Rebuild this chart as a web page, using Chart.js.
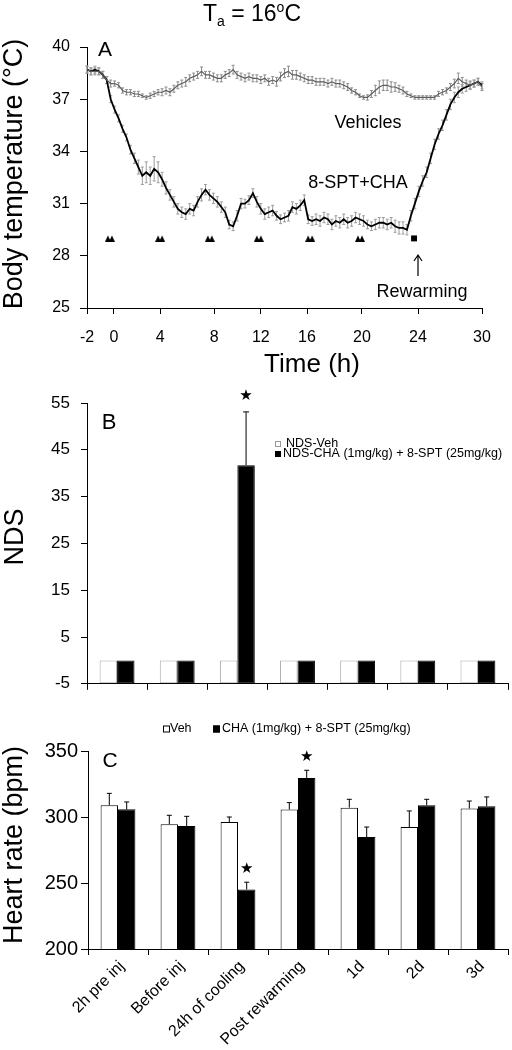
<!DOCTYPE html>
<html><head><meta charset="utf-8">
<script src="https://cdn.jsdelivr.net/npm/chart.js@4.4.1/dist/chart.umd.min.js"></script>
<style>
html,body{margin:0;padding:0;background:#fff;}
#wrap{position:relative;width:512px;height:1050px;overflow:hidden;background:#fff;}
.pane{position:absolute;left:0;width:512px;}
canvas{display:block;}
</style></head><body>
<div id="wrap">
<div class="pane" style="top:0;height:380px"><canvas id="cA" width="512" height="380"></canvas></div>
<div class="pane" style="top:380px;height:325px"><canvas id="cB" width="512" height="325"></canvas></div>
<div class="pane" style="top:705px;height:345px"><canvas id="cC" width="512" height="345"></canvas></div>
</div>
<script>
// ---------- Panel A data (body temperature, one sample per axis step) ----------
const timeTickLabels = ['-2','0','4','8','12','16','20','24','30'];
const timeTickPos = [0, 6.8, 18.5, 32.2, 44, 55.7, 69.6, 83.8, 100];
const tempVehicles = [38.7,38.6,38.6,38.6,38.4,38.1,37.9,37.9,37.8,37.5,
  37.4,37.4,37.3,37.3,37.2,37.1,37.2,37.3,37.4,37.4,
  37.5,37.4,37.6,37.8,37.9,38.0,38.2,38.3,38.4,38.6,
  38.4,38.4,38.3,38.2,38.2,38.4,38.5,38.7,38.4,38.3,
  38.2,38.3,38.2,38.2,38.1,38.2,38.0,38.1,38.0,38.3,
  38.5,38.6,38.4,38.4,38.3,38.2,38.1,38.1,38.0,38.0,
  38.0,37.9,38.0,37.9,37.9,37.8,37.7,37.5,37.4,37.2,
  37.1,37.1,37.3,37.5,37.7,37.8,37.8,37.7,37.7,37.6,
  37.5,37.3,37.2,37.1,37.1,37.1,37.1,37.1,37.1,37.3,
  37.4,37.5,37.7,37.9,38.2,38.0,37.9,37.8,37.9,38.0,
  37.7];
const tempVehiclesErr = [0.2,0.2,0.2,0.2,0.2,0.2,0.2,0.15,0.15,0.15,
  0.15,0.15,0.15,0.15,0.1,0.1,0.15,0.15,0.15,0.2,
  0.2,0.2,0.2,0.2,0.2,0.25,0.2,0.2,0.2,0.25,
  0.2,0.2,0.2,0.2,0.2,0.2,0.2,0.25,0.2,0.2,
  0.2,0.2,0.2,0.2,0.2,0.2,0.2,0.2,0.25,0.25,
  0.25,0.3,0.25,0.25,0.2,0.2,0.2,0.2,0.2,0.2,
  0.2,0.2,0.2,0.2,0.2,0.2,0.2,0.15,0.15,0.1,
  0.1,0.15,0.2,0.3,0.35,0.3,0.3,0.3,0.25,0.2,
  0.2,0.15,0.1,0.1,0.1,0.1,0.1,0.1,0.1,0.15,
  0.15,0.15,0.2,0.25,0.3,0.25,0.2,0.2,0.2,0.2,
  0.2];
const tempCha = [38.7,38.6,38.7,38.6,38.4,38.1,37.0,36.4,35.9,35.3,
  34.8,34.1,33.6,33.1,32.6,32.8,32.6,33.0,32.8,32.4,
  31.9,31.5,31.1,30.7,30.5,30.4,30.7,30.6,31.1,31.5,
  31.8,31.5,31.3,31.1,30.8,30.5,29.8,29.7,30.3,31.0,
  31.0,31.2,31.6,31.1,30.7,30.4,30.5,30.6,30.3,30.1,
  30.2,30.3,30.8,30.7,30.9,31.2,30.1,30.0,30.1,30.0,
  30.2,30.1,29.8,30.0,29.9,30.1,29.9,30.0,30.2,30.1,
  30.0,29.8,29.7,29.8,29.9,29.9,29.8,29.9,29.7,29.6,
  29.6,29.5,30.3,31.0,31.7,32.3,32.8,33.6,34.4,35.0,
  35.5,36.1,36.7,37.1,37.4,37.6,37.7,37.8,37.9,38.0,
  37.8];
const tempChaErr = [0.2,0.2,0.2,0.2,0.2,0.2,0.2,0.2,0.2,0.2,
  0.2,0.25,0.3,0.4,0.5,0.6,0.5,0.7,0.6,0.4,
  0.35,0.3,0.3,0.3,0.3,0.3,0.3,0.3,0.3,0.35,
  0.3,0.3,0.3,0.3,0.3,0.3,0.25,0.25,0.3,0.3,
  0.25,0.25,0.25,0.3,0.3,0.3,0.3,0.3,0.25,0.25,
  0.25,0.3,0.3,0.3,0.3,0.3,0.25,0.25,0.3,0.3,
  0.3,0.3,0.3,0.3,0.3,0.3,0.3,0.3,0.3,0.3,
  0.3,0.25,0.25,0.3,0.3,0.3,0.3,0.3,0.35,0.35,
  0.35,0.3,0.3,0.3,0.3,0.3,0.3,0.3,0.3,0.3,
  0.3,0.3,0.3,0.3,0.3,0.25,0.25,0.25,0.2,0.2,
  0.2];
const injectionPos = [5.8, 18.5, 31.1, 43.5, 56.5, 69.1];
const rewarmPos = [82.8];
const markerLevel = 29;

// ---------- Panel B data (NDS) ----------
const categories = ['2h pre inj','Before inj','24h of cooling','Post rewarming','1d','2d','3d'];
const ndsVeh = [0,0,0,0,0,0,0];
const ndsVehErr = [0,0,0,0,0,0,0];
const ndsCha = [0,0,41.7,0,0,0,0];
const ndsChaErr = [0,0,11.4,0,0,0,0];
const ndsSignificant = [false,false,true,false,false,false,false];

// ---------- Panel C data (heart rate) ----------
const hrVeh = [308.9,294.5,296.2,305.6,307.1,292.4,306.4];
const hrVehErr = [9.0,6.8,3.8,5.3,6.3,12.2,5.7];
const hrCha = [305.8,293.2,245.1,329.6,284.8,308.9,308.1];
const hrChaErr = [5.6,7.3,5.5,5.8,7.6,4.5,7.1];
const hrSignificant = [false,false,true,true,false,false,false];

const FONT = "'Liberation Sans', Arial, Helvetica, sans-serif";
Chart.defaults.font.family = FONT;
Chart.defaults.color = '#000';

// ---------- plugins ----------
function drawErrors(chart){
  const ctx = chart.ctx, ys = chart.scales.y;
  chart.data.datasets.forEach((ds, i) => {
    if (!ds.errors) return;
    const meta = chart.getDatasetMeta(i);
    ctx.save();
    ctx.strokeStyle = ds.errorColor || '#000';
    ctx.lineWidth = ds.errorWidth || 1;
    meta.data.forEach((el, j) => {
      const e = ds.errors[j];
      if (!e) return;
      const raw = ds.data[j];
      const v = (typeof raw === 'object') ? raw.y : raw;
      const x = el.x;
      const yTop = ys.getPixelForValue(v + e);
      const yBot = ds.errorMode === 'up' ? ys.getPixelForValue(v) : ys.getPixelForValue(v - e);
      const cw = ds.errorCap || 2;
      ctx.beginPath();
      ctx.moveTo(x, yBot); ctx.lineTo(x, yTop);
      ctx.moveTo(x - cw, yTop); ctx.lineTo(x + cw, yTop);
      if (ds.errorMode !== 'up') { ctx.moveTo(x - cw, yBot); ctx.lineTo(x + cw, yBot); }
      ctx.stroke();
    });
    ctx.restore();
  });
}
const errorBarPlugin = {
  id: 'errorBars',
  beforeDatasetsDraw(chart, args, opts){ if (opts.behind) drawErrors(chart); },
  afterDatasetsDraw(chart, args, opts){ if (!opts.behind) drawErrors(chart); }
};

const starPlugin = {
  id: 'stars',
  afterDatasetsDraw(chart, args, opts){
    const ctx = chart.ctx, ys = chart.scales.y;
    chart.data.datasets.forEach((ds, i) => {
      if (!ds.significant) return;
      const meta = chart.getDatasetMeta(i);
      ds.significant.forEach((s, j) => {
        if (!s) return;
        const el = meta.data[j];
        const top = ys.getPixelForValue(ds.data[j] + (ds.errors ? ds.errors[j] : 0));
        ctx.save();
        ctx.fillStyle = '#000';
        ctx.font = (opts.size || 15) + "px 'DejaVu Sans', sans-serif";
        ctx.textAlign = 'center'; ctx.textBaseline = 'middle';
        ctx.fillText('\u2605', el.x, top - (opts.gap || 14));
        ctx.restore();
      });
    });
  }
};

const annotPlugin = {
  id: 'annot',
  afterDraw(chart, args, opts){
    const ctx = chart.ctx;
    (opts.texts || []).forEach(t => {
      ctx.save();
      ctx.translate(t.x, t.y);
      if (t.rotate) ctx.rotate(t.rotate * Math.PI / 180);
      ctx.fillStyle = t.color || '#000';
      ctx.textBaseline = 'middle';
      ctx.textAlign = 'left';
      const fam = t.family || FONT;
      const segs = t.segs || [{text: t.text, size: t.size, dy: 0}];
      let total = 0;
      segs.forEach(s => { ctx.font = s.size + 'px ' + fam; s.w = ctx.measureText(s.text).width; total += s.w; });
      let x = t.align === 'left' ? 0 : -total / 2;
      segs.forEach(s => { ctx.font = s.size + 'px ' + fam; ctx.fillText(s.text, x, s.dy || 0); x += s.w; });
      ctx.restore();
    });
    (opts.arrows || []).forEach(a => {
      ctx.save();
      ctx.strokeStyle = '#000'; ctx.lineWidth = 1.2;
      ctx.beginPath();
      ctx.moveTo(a.x, a.y1); ctx.lineTo(a.x, a.y2);
      ctx.moveTo(a.x - 4, a.y2 + 6); ctx.lineTo(a.x, a.y2); ctx.lineTo(a.x + 4, a.y2 + 6);
      ctx.stroke();
      ctx.restore();
    });
    (opts.legend || []).forEach(l => {
      const ds = chart.data.datasets[l.datasetIndex];
      ctx.save();
      ctx.fillStyle = ds.backgroundColor;
      ctx.strokeStyle = l.boxBorder || ds.borderColor;
      ctx.lineWidth = 1;
      ctx.fillRect(l.x, l.y - l.box / 2, l.box, l.box);
      ctx.strokeRect(l.x + 0.5, l.y - l.box / 2 + 0.5, l.box - 1, l.box - 1);
      ctx.fillStyle = '#000';
      ctx.font = l.size + 'px ' + FONT;
      ctx.textBaseline = 'middle'; ctx.textAlign = 'left';
      ctx.fillText(ds.label, l.textX, l.y);
      ctx.restore();
    });
  }
};

function makeInjectionGlyph(){
  const c = document.createElement('canvas');
  c.width = 10; c.height = 7;
  const g = c.getContext('2d');
  g.fillStyle = '#000';
  g.beginPath(); g.moveTo(0,7); g.lineTo(3,0.5); g.lineTo(6,7); g.closePath(); g.fill();
  g.beginPath(); g.moveTo(4,7); g.lineTo(7,0.5); g.lineTo(10,7); g.closePath(); g.fill();
  return c;
}

const toXY = arr => arr.map((v, i) => ({x: i, y: v}));

// ---------- Chart A ----------
new Chart(document.getElementById('cA'), {
  type: 'line',
  data: { datasets: [
    { label: 'Vehicles', data: toXY(tempVehicles), errors: tempVehiclesErr, errorColor: '#8c8c8c', errorCap: 1.5,
      borderColor: '#5c5c5c', borderWidth: 1.2, pointRadius: 0, tension: 0 },
    { label: '8-SPT+CHA', data: toXY(tempCha), errors: tempChaErr, errorColor: '#9c9c9c', errorCap: 1.5,
      borderColor: '#000', borderWidth: 1.8, pointRadius: 0, tension: 0 },
    { label: 'Injections', data: injectionPos.map(x => ({x, y: markerLevel})), showLine: false,
      pointStyle: makeInjectionGlyph(), pointRadius: 5, borderColor: '#000', backgroundColor: '#000' },
    { label: 'Rewarming', data: rewarmPos.map(x => ({x, y: markerLevel})), showLine: false,
      pointStyle: 'rect', pointRadius: 4.2, borderColor: '#000', backgroundColor: '#000', borderWidth: 0 }
  ]},
  options: {
    responsive: false, animation: false, devicePixelRatio: 1,
    layout: { padding: { top: 47, right: 30, left: 0, bottom: 0 } },
    plugins: {
      legend: { display: false }, tooltip: { enabled: false },
      errorBars: { behind: true },
      annot: {
        texts: [
          { x: 252, y: 15, segs: [
            {text: 'T', size: 23, dy: 0}, {text: 'a', size: 14, dy: 7},
            {text: ' = 16', size: 23, dy: 0}, {text: 'o', size: 14, dy: -7}, {text: 'C', size: 23, dy: 0}] },
          { x: 105, y: 50, text: 'A', size: 21 },
          { x: 368, y: 123, text: 'Vehicles', size: 18 },
          { x: 358, y: 183, text: '8-SPT+CHA', size: 18 },
          { x: 422, y: 292, text: 'Rewarming', size: 18 },
          { x: 312, y: 365, text: 'Time (h)', size: 26 },
          { x: 15, y: 174, text: 'Body temperature (\u00B0C)', size: 27, rotate: -90 }
        ],
        arrows: [ { x: 418, y1: 276, y2: 255 } ]
      }
    },
    scales: {
      x: {
        type: 'linear', min: 0, max: 100,
        afterBuildTicks(s){ s.ticks = timeTickPos.map(v => ({value: v})); },
        afterFit(s){ s.height = 72; },
        ticks: { autoSkip: false, maxRotation: 0, padding: 14, font: { size: 16 },
                 callback: (v, i) => timeTickLabels[i] },
        grid: { drawOnChartArea: false, drawTicks: true, tickLength: 6, color: '#000' },
        border: { color: '#000', width: 1 }
      },
      y: {
        min: 25, max: 40,
        afterFit(s){ s.width = 87; },
        ticks: { stepSize: 3, padding: 10, font: { size: 16 } },
        grid: { drawOnChartArea: false, tickLength: 7, color: '#000' },
        border: { color: '#000', width: 1 }
      }
    }
  },
  plugins: [errorBarPlugin, annotPlugin]
});

// ---------- Chart B ----------
new Chart(document.getElementById('cB'), {
  type: 'bar',
  data: { labels: categories, datasets: [
    { label: 'NDS-Veh', data: ndsVeh, errors: ndsVehErr, errorMode: 'up', errorCap: 3, base: -5,
      backgroundColor: '#ffffff', borderColor: '#a8a8a8', borderWidth: 1, borderSkipped: false,
      categoryPercentage: 0.58, barPercentage: 1.0 },
    { label: 'NDS-CHA (1mg/kg) + 8-SPT (25mg/kg)', data: ndsCha, errors: ndsChaErr, errorMode: 'up', errorCap: 3, base: -5,
      significant: ndsSignificant,
      backgroundColor: '#000', borderColor: '#000', borderWidth: 1, borderSkipped: false,
      categoryPercentage: 0.58, barPercentage: 1.0 }
  ]},
  options: {
    responsive: false, animation: false, devicePixelRatio: 1,
    layout: { padding: { top: 23, right: 4, left: 0, bottom: 0 } },
    plugins: {
      legend: { display: false }, tooltip: { enabled: false },
      errorBars: { behind: false },
      stars: { gap: 16, size: 15 },
      annot: {
        texts: [
          { x: 109, y: 43, text: 'B', size: 22 },
          { x: 16, y: 157, text: 'NDS', size: 27, rotate: -90 }
        ],
        legend: [
          { datasetIndex: 0, x: 275, y: 64, box: 6, textX: 286, size: 12.5, boxBorder: '#999' },
          { datasetIndex: 1, x: 275, y: 74, box: 6, textX: 283, size: 12.5 }
        ]
      }
    },
    scales: {
      x: {
        afterFit(s){ s.height = 11; },
        ticks: { display: false },
        grid: { offset: true, drawOnChartArea: false, tickLength: 6, color: '#000' },
        border: { color: '#000', width: 1 }
      },
      y: {
        min: -5, max: 55,
        afterFit(s){ s.width = 87; },
        ticks: { stepSize: 10, padding: 11, font: { size: 17 } },
        grid: { drawOnChartArea: false, tickLength: 6, color: '#000' },
        border: { color: '#000', width: 1 }
      }
    }
  },
  plugins: [errorBarPlugin, starPlugin, annotPlugin]
});

// ---------- Chart C ----------
new Chart(document.getElementById('cC'), {
  type: 'bar',
  data: { labels: categories, datasets: [
    { label: 'Veh', data: hrVeh, errors: hrVehErr, errorMode: 'up', errorCap: 2.5,
      backgroundColor: '#ffffff', borderColor: '#000', borderWidth: 1, borderSkipped: false,
      categoryPercentage: 0.58, barPercentage: 1.0 },
    { label: 'CHA (1mg/kg) + 8-SPT (25mg/kg)', data: hrCha, errors: hrChaErr, errorMode: 'up', errorCap: 2.5,
      significant: hrSignificant,
      backgroundColor: '#000', borderColor: '#000', borderWidth: 1, borderSkipped: false,
      categoryPercentage: 0.58, barPercentage: 1.0 }
  ]},
  options: {
    responsive: false, animation: false, devicePixelRatio: 1,
    layout: { padding: { top: 46, right: 4, left: 0, bottom: 0 } },
    plugins: {
      legend: { display: false }, tooltip: { enabled: false },
      errorBars: { behind: false },
      stars: { gap: 13, size: 15 },
      annot: {
        texts: [
          { x: 110, y: 56, text: 'C', size: 21 },
          { x: 15, y: 140, text: 'Heart rate (bpm)', size: 27, rotate: -90 }
        ],
        legend: [
          { datasetIndex: 0, x: 163, y: 24, box: 7, textX: 170, size: 12.5 },
          { datasetIndex: 1, x: 213, y: 24, box: 7, textX: 222, size: 12.5 }
        ]
      }
    },
    scales: {
      x: {
        afterFit(s){ s.height = 101; },
        ticks: { autoSkip: false, minRotation: 45, maxRotation: 45, padding: 2, labelOffset: 4, font: { size: 16 } },
        grid: { offset: true, drawOnChartArea: false, tickLength: 6, color: '#000' },
        border: { color: '#000', width: 1 }
      },
      y: {
        min: 200, max: 350,
        afterFit(s){ s.width = 88; },
        ticks: { stepSize: 50, padding: 3, font: { size: 20 } },
        grid: { drawOnChartArea: false, tickLength: 7, color: '#000' },
        border: { color: '#000', width: 1 }
      }
    }
  },
  plugins: [errorBarPlugin, starPlugin, annotPlugin]
});
</script>
</body></html>
